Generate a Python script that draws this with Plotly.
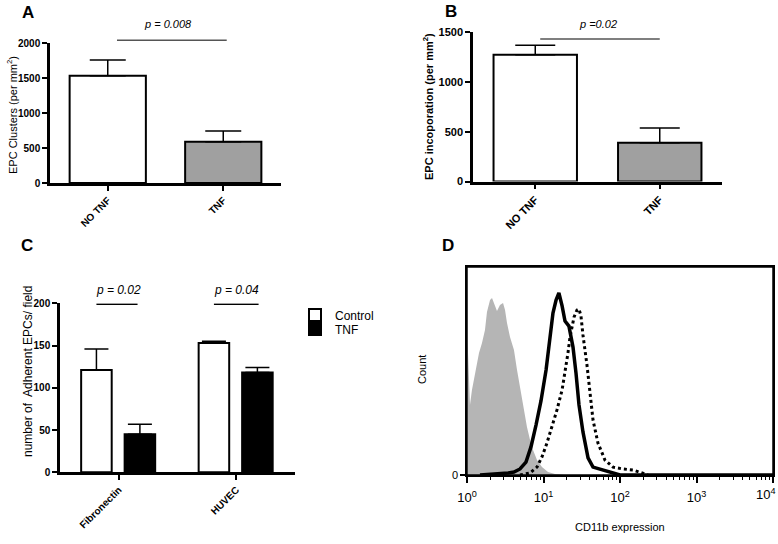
import plotly.graph_objects as go

# ---------------- data ----------------
# Panel A
a_categories = ["NO TNF", "TNF"]
a_values = [1533, 590]
a_errors = [224, 153]
# Panel B
b_categories = ["NO TNF", "TNF"]
b_values = [1272, 390]
b_errors = [96, 148]
# Panel C
c_categories = ["Fibronectin", "HUVEC"]
c_control = [121, 153]
c_control_err = [25, 2]
c_tnf = [45, 118]
c_tnf_err = [12, 6]
# Panel D (flow cytometry histograms; x = CD11b expression, y = relative count)
d_gray_x = [1.016, 1.094, 1.161, 1.274, 1.435, 1.570, 1.718, 1.824, 2.000, 2.123, 2.254,
            2.466, 2.698, 2.958, 3.141, 3.334, 3.648, 4.111, 4.508, 4.932, 5.559, 6.081,
            6.668, 7.295, 8.222, 9.550, 11.46, 14.13, 19.10]
d_gray_y = [64.9, 33.7, 40.9, 49.0, 58.7, 63.5, 69.7, 78.4, 84.1, 85.1, 82.7,
            78.8, 81.7, 82.7, 79.3, 73.1, 66.3, 60.1, 50.5, 42.3, 29.8, 23.1,
            16.8, 12.0, 7.2, 3.8, 1.4, 0.5, 0.0]
d_solid_x = [1.479, 2.70, 3.44, 4.11, 4.93, 5.90, 6.86, 7.98, 9.27, 10.8, 12.2, 13.3, 14.6,
             15.9, 17.5, 19.1, 21.5, 24.3, 26.6, 29.1, 32.8, 38.2, 44.4, 60.0, 81.0, 100, 10000]
d_solid_y = [0.0, 0.5, 1.0, 1.4, 2.9, 6.2, 13.5, 24.0, 35.6, 50.5, 67.3, 77.9, 84.1,
             87.5, 81.3, 74.0, 71.6, 61.5, 49.0, 33.7, 20.7, 8.2, 3.8, 2.4, 1.0, 0.0, 0.0]
d_dotted_x = [4.93, 6.67, 8.22, 9.55, 11.1, 12.9, 15.0, 17.5, 19.1, 20.9, 22.2, 23.6, 25.1,
              27.4, 29.1, 30.9, 32.8, 37.0, 40.5, 44.4, 51.5, 63.6, 81.0, 109, 148, 182, 232]
d_dotted_y = [0.0, 1.0, 3.8, 8.7, 15.4, 23.1, 31.3, 40.9, 49.0, 58.7, 66.3, 72.1, 76.0,
              79.3, 79.8, 76.4, 67.3, 52.9, 39.4, 26.4, 15.4, 7.2, 3.8, 2.9, 2.4, 1.4, 0.0]
d_tickvals = [1, 10, 100, 1000, 10000]
d_ticktext = ["10<sup>0</sup>", "10<sup>1</sup>", "10<sup>2</sup>", "10<sup>3</sup>", "10<sup>4</sup>"]

W, H = 778, 544
FONT = "Liberation Sans, Arial, sans-serif"


def fx(p):
    return p / W


def fy(p):
    return 1 - p / H


fig = go.Figure()

# Panel A
fig.add_trace(go.Bar(
    x=a_categories, y=a_values, width=0.66,
    marker=dict(color=["white", "#a0a0a0"], line=dict(color="black", width=2)),
    error_y=dict(type="data", symmetric=False, array=a_errors, arrayminus=[0, 0],
                 color="black", thickness=1.5, width=18),
    xaxis="x", yaxis="y", showlegend=False))

# Panel B
fig.add_trace(go.Bar(
    x=b_categories, y=b_values, width=0.67,
    marker=dict(color=["white", "#a0a0a0"], line=dict(color="black", width=2)),
    error_y=dict(type="data", symmetric=False, array=b_errors, arrayminus=[0, 0],
                 color="black", thickness=1.5, width=20),
    xaxis="x2", yaxis="y2", showlegend=False))

# Panel C
fig.add_trace(go.Bar(
    name="Control", x=c_categories, y=c_control, width=0.26, offset=-0.32,
    marker=dict(color="white", line=dict(color="black", width=2)),
    error_y=dict(type="data", symmetric=False, array=c_control_err, arrayminus=[0, 0],
                 color="black", thickness=1.5, width=12),
    xaxis="x3", yaxis="y3", showlegend=True, legend="legend"))
fig.add_trace(go.Bar(
    name="TNF", x=c_categories, y=c_tnf, width=0.26, offset=0.05,
    marker=dict(color="black", line=dict(color="black", width=2)),
    error_y=dict(type="data", symmetric=False, array=c_tnf_err, arrayminus=[0, 0],
                 color="black", thickness=1.5, width=12),
    xaxis="x3", yaxis="y3", showlegend=True, legend="legend2"))

# Panel D
fig.add_trace(go.Scatter(
    x=d_gray_x, y=d_gray_y, mode="lines", fill="tozeroy", fillcolor="#b5b5b5",
    line=dict(width=0, color="#b5b5b5"), xaxis="x4", yaxis="y4", showlegend=False))
fig.add_trace(go.Scatter(
    x=d_dotted_x, y=d_dotted_y, mode="lines",
    line=dict(color="black", width=3, dash="dot"), xaxis="x4", yaxis="y4", showlegend=False))
fig.add_trace(go.Scatter(
    x=d_solid_x, y=d_solid_y, mode="lines",
    line=dict(color="black", width=3.5), xaxis="x4", yaxis="y4", showlegend=False))

bold_tick = dict(family=FONT, size=10, color="black", weight="bold")
cat_x = dict(type="category", range=[-0.5, 1.5], showline=True, linecolor="black", linewidth=2.5,
             ticks="outside", ticklen=5, tickwidth=2, tickcolor="black", tickangle=-45,
             tickfont=bold_tick, showgrid=False, zeroline=False, fixedrange=True,
             automargin=False)
lin_y = dict(showline=True, linecolor="black", linewidth=2.5, ticks="outside", ticklen=5,
             tickwidth=2, tickcolor="black", tickfont=bold_tick, showgrid=False,
             zeroline=False, fixedrange=True, automargin=False)

leg_common = dict(xanchor="left", yanchor="middle",
                  font=dict(family=FONT, size=12, color="black"),
                  bgcolor="rgba(0,0,0,0)", borderwidth=0)

# last decade label is written separately so it can sit flush against the right edge
d_axis_text = d_ticktext[:-1] + [""]

fig.update_layout(
    template="none",
    width=W, height=H, autosize=False,
    margin=dict(l=0, r=0, t=0, b=0, pad=0),
    paper_bgcolor="white", plot_bgcolor="white",
    font=dict(family=FONT, color="black"),
    xaxis=dict(cat_x, domain=[fx(50), fx(281)], anchor="y"),
    yaxis=dict(lin_y, domain=[fy(183), fy(43)], range=[0, 2000],
               tickvals=[0, 500, 1000, 1500, 2000], anchor="x"),
    xaxis2=dict(cat_x, domain=[fx(473), fx(722)], anchor="y2",
                tickfont=dict(bold_tick, size=11)),
    yaxis2=dict(lin_y, domain=[fy(181.5), fy(32)], range=[0, 1500],
                tickvals=[0, 500, 1000, 1500], anchor="x2", tickfont=dict(bold_tick, size=11)),
    xaxis3=dict(cat_x, domain=[fx(60), fx(295)], anchor="y3"),
    yaxis3=dict(lin_y, domain=[fy(472.3), fy(303.3)], range=[0, 200],
                tickvals=[0, 50, 100, 150, 200], anchor="x3"),
    xaxis4=dict(type="log", range=[0, 4], domain=[fx(467), fx(773)], anchor="y4",
                showline=True, mirror=True, linecolor="black", linewidth=1.5,
                ticks="outside", ticklen=6, tickwidth=1.5, tickcolor="black",
                tickvals=d_tickvals, ticktext=d_axis_text, ticklabeloverflow="allow",
                ticklabelstandoff=4,
                tickfont=dict(family=FONT, size=13, color="black"),
                minor=dict(tickmode="array",
                           tickvals=[m * d for d in (1, 10, 100, 1000) for m in range(2, 10)],
                           ticks="outside", ticklen=3, tickwidth=1, tickcolor="black",
                           showgrid=False),
                showgrid=False, zeroline=False, fixedrange=True, automargin=False),
    yaxis4=dict(range=[0, 100], domain=[fy(475), fy(267)], anchor="x4",
                showline=True, mirror=True, linecolor="black", linewidth=1.5,
                ticks="outside", ticklen=5, tickwidth=1.5, tickcolor="black",
                tickvals=[0], ticktext=["0"],
                tickfont=dict(family=FONT, size=11, color="black"),
                showgrid=False, zeroline=False, fixedrange=True, automargin=False),
    legend=dict(leg_common, x=fx(295), y=fy(315)),
    legend2=dict(leg_common, x=fx(295), y=fy(329)),
    bargap=0.34,
)

# frame of the histogram panel
fig.add_shape(type="rect", xref="x4 domain", yref="y4 domain", x0=0, x1=1, y0=0, y1=1,
              line=dict(color="black", width=1.5), fillcolor="rgba(0,0,0,0)")

# significance lines
fig.add_shape(type="line", xref="x", yref="y domain", x0=0.08, x1=1.03, y0=1.02, y1=1.02,
              line=dict(color="#555555", width=1.5))
fig.add_shape(type="line", xref="x2", yref="y2", x0=0.04, x1=1.0, y0=1430, y1=1430,
              line=dict(color="#555555", width=1.5))
fig.add_shape(type="line", xref="x3", yref="y3", x0=-0.19, x1=0.16, y0=199, y1=199,
              line=dict(color="black", width=1.5))
fig.add_shape(type="line", xref="x3", yref="y3", x0=0.81, x1=1.19, y0=199, y1=199,
              line=dict(color="black", width=1.5))

C = dict(showarrow=False, xanchor="center", yanchor="middle")
ann = []
ann.append(dict(C, xref="x", yref="y domain", x=0.52, y=1.135, text="<i>p = 0.008</i>",
                font=dict(size=11)))
ann.append(dict(C, xref="x2", yref="y2 domain", x=0.5, y=1.053, text="<i>p =0.02</i>",
                font=dict(size=11)))
ann.append(dict(C, xref="x3", yref="y3 domain", x=0.0, y=1.08, text="<i>p = 0.02</i>",
                font=dict(size=12)))
ann.append(dict(C, xref="x3", yref="y3 domain", x=1.0, y=1.08, text="<i>p = 0.04</i>",
                font=dict(size=12)))
# last decade label of the histogram axis
ann.append(dict(showarrow=False, xref="paper", yref="y4 domain", x=1.0, y=-0.045,
                xanchor="right", yanchor="top", text=d_ticktext[-1],
                font=dict(family=FONT, size=13, color="black")))
# panel letters
for letter, (lx, ly) in {"A": (28, 12), "B": (451, 11), "C": (27, 246), "D": (448, 246)}.items():
    ann.append(dict(C, xref="paper", yref="paper", x=fx(lx), y=fy(ly), text="<b>%s</b>" % letter,
                    font=dict(size=17)))
# axis titles
ann.append(dict(C, xref="paper", yref="paper", x=fx(12), y=fy(115),
                text="EPC Clusters (per mm<sup>2</sup>)", textangle=-90, font=dict(size=11)))
ann.append(dict(C, xref="paper", yref="paper", x=fx(428), y=fy(107),
                text="<b>EPC incoporation (per mm<sup>2</sup>)</b>", textangle=-90,
                font=dict(size=11)))
ann.append(dict(C, xref="paper", yref="paper", x=fx(28), y=fy(372),
                text="number of  Adherent EPCs/ field", textangle=-90, font=dict(size=12)))
ann.append(dict(C, xref="paper", yref="paper", x=fx(422), y=fy(370),
                text="Count", textangle=-90, font=dict(size=11)))
ann.append(dict(C, xref="paper", yref="paper", x=fx(620), y=fy(527),
                text="CD11b expression", font=dict(size=11)))
fig.update_layout(annotations=ann)

# remove the browser's default 8px page margin so the figure fills the window exactly
fig.write_html("out.html", config={"displayModeBar": False},
               post_script="document.body.style.margin='0px';document.body.style.padding='0px';")
